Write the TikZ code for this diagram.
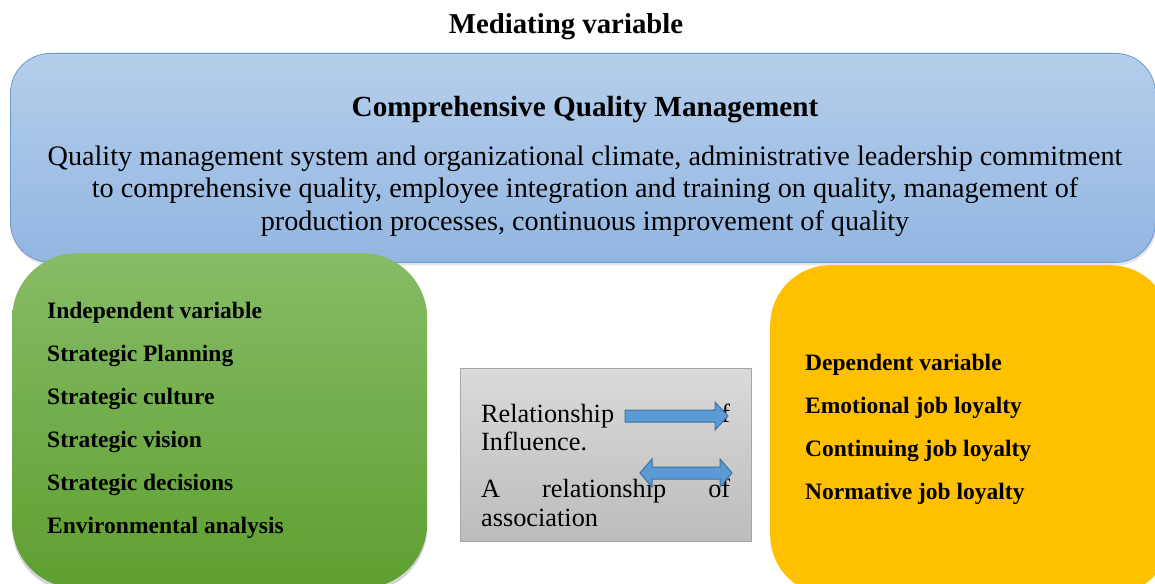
\documentclass[tikz,border=0pt]{standalone}
\usepackage{fontspec}
\setmainfont{Liberation Serif}
\usetikzlibrary{positioning,shadows}

\definecolor{cqmtop}{HTML}{B5CEEB}
\definecolor{cqmbot}{HTML}{92B6E1}
\definecolor{cqmedge}{HTML}{6A9AD3}
\definecolor{indtop}{HTML}{86BC66}
\definecolor{indbot}{HTML}{5E9F30}
\definecolor{depfill}{HTML}{FFC000}
\definecolor{keytop}{HTML}{DADADA}
\definecolor{keybot}{HTML}{BCBCBC}
\definecolor{keyedge}{HTML}{A6A6A6}
\definecolor{arrfill}{HTML}{5B9BD5}
\definecolor{arredge}{HTML}{41719C}

\tikzset{
  varbox/.style={rounded corners=#1, inner sep=0pt, anchor=north west},
  itemtext/.style={font=\bfseries\fontsize{23.5}{27}\selectfont, anchor=base west, inner sep=0pt},
  keytext/.style={font=\fontsize{26.3}{29}\selectfont, anchor=base west, inner sep=0pt},
  blockarrow/.style={fill=arrfill, draw=arredge, line width=1pt, line join=miter}
}

\begin{document}
\begin{tikzpicture}[x=1pt,y=-1pt]
    \useasboundingbox (0,0) rectangle (1155,583);
    \clip (0,0) rectangle (1155,583);
    \node[font=\bfseries\fontsize{28.8}{32}\selectfont, anchor=base] (medtitle) at (566,34) {Mediating variable};
    % mediating variable
    \node[varbox=40pt, draw=cqmedge, line width=0.8pt, top color=cqmtop, bottom color=cqmbot,
        minimum width=1145pt, minimum height=209pt,
        drop shadow={opacity=0.2, shadow xshift=1pt, shadow yshift=-3pt}] (cqm) at (10,53) {};
    \node[font=\bfseries\fontsize{29.2}{32}\selectfont, anchor=base] (cqmtitle) at (585,117) {Comprehensive Quality Management};
    \node[font=\fontsize{28.2}{32.5}\selectfont, align=center, anchor=base] (cqmtext) at (585,230)
        {Quality management system and organizational climate, administrative leadership commitment\\
         to comprehensive quality, employee integration and training on quality, management of\\
         production processes, continuous improvement of quality};
    % independent variable
    \node[varbox=65pt, top color=indtop, bottom color=indbot, minimum width=415pt, minimum height=335pt,
        drop shadow={opacity=0.35, shadow xshift=0pt, shadow yshift=-4pt}] (indep) at (12,253) {};
    \foreach \t [count=\i from 0] in {Independent variable, Strategic Planning, Strategic culture,
        Strategic vision, Strategic decisions, Environmental analysis}
        \node[itemtext] (ind\i) at (47,318+43*\i) {\t};
    % dependent variable
    \node[varbox=60pt, fill=depfill, minimum width=400pt, minimum height=330pt] (dep) at (770,265) {};
    \foreach \t [count=\i from 0] in {Dependent variable, Emotional job loyalty,
        Continuing job loyalty, Normative job loyalty}
        \node[itemtext] (dep\i) at (805,370+43*\i) {\t};
    % key
    \node[varbox=0pt, draw=keyedge, line width=0.8pt, top color=keytop, bottom color=keybot,
        minimum width=291pt, minimum height=173pt] (key) at (460,368) {};
    \node[keytext] (key1) at (481,422) {\makebox[249pt][s]{Relationship of}};
    \node[keytext] (key2) at (481,450) {Influence.};
    \node[keytext] (key3) at (481,497) {\makebox[249pt][s]{A relationship of}};
    \node[keytext] (key4) at (481,526) {association};
    \filldraw[blockarrow] (625,410) -- (715,410) -- (715,402) -- (728,416) -- (715,430) -- (715,422) -- (625,422) -- cycle;
    \filldraw[blockarrow] (640,473) -- (652,459) -- (652,467) -- (720,467) -- (720,459) -- (732,473)
        -- (720,487) -- (720,479) -- (652,479) -- (652,487) -- cycle;
\end{tikzpicture}
\end{document}
